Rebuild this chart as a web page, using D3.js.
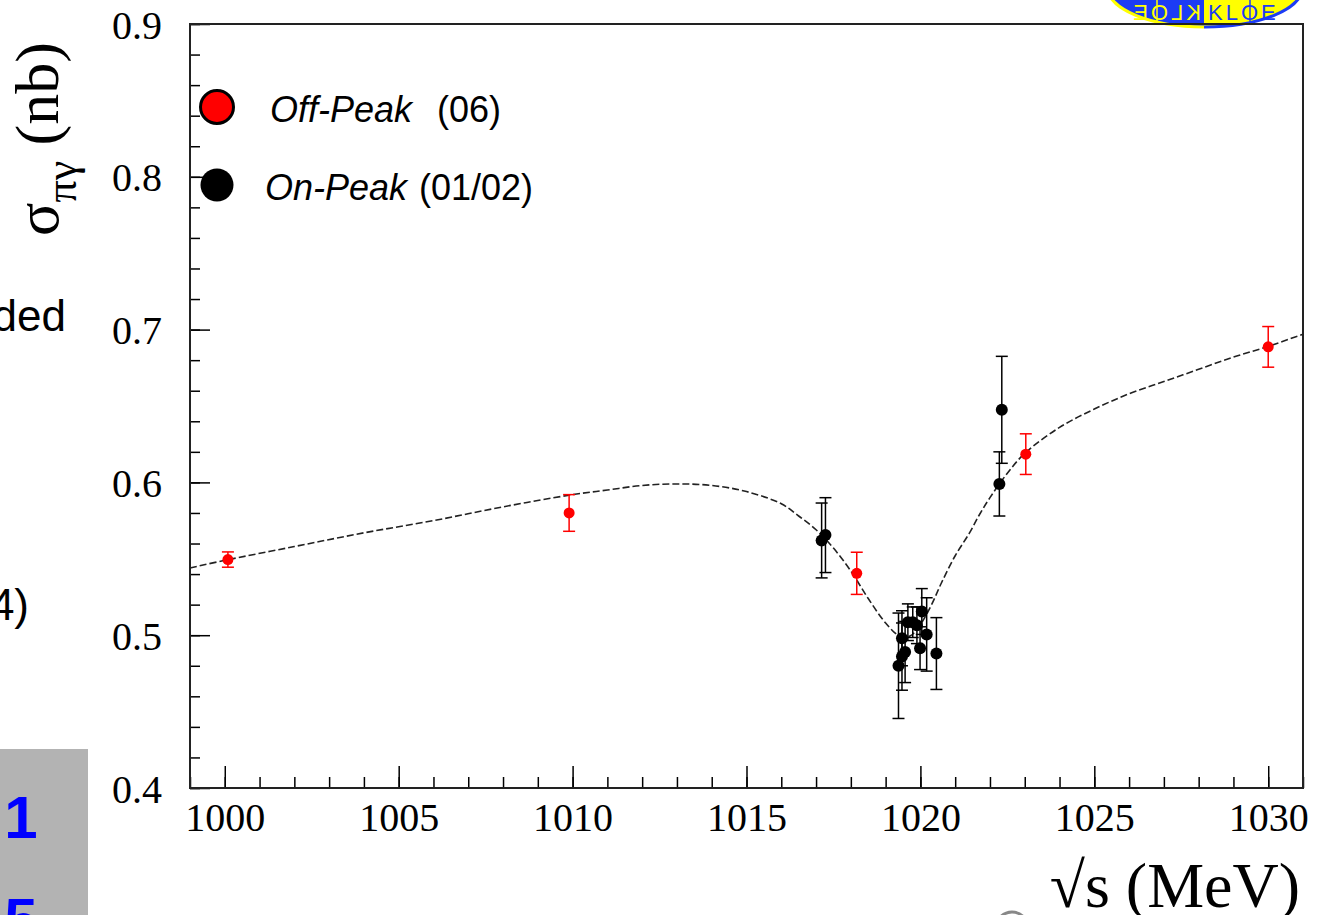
<!DOCTYPE html>
<html lang="en">
<head>
	<meta charset="UTF-8">
	<title>sigma pi gamma vs sqrt(s)</title>

	<script src="https://cdn.jsdelivr.net/npm/d3@7/dist/d3.min.js"></script>

	<style>
		body {
			margin: 0;
			background: #fff;
			overflow: hidden;
		}

		.axis text {
			font-family: "Liberation Serif", "Times New Roman", serif;
			font-size: 40px;
			fill: #000;
		}

		.axis line {
			stroke: #000;
			stroke-width: 1.5;
		}

		.slide {
			font-family: "Liberation Sans", Arial, sans-serif;
		}
	</style>

</head>
<body>

<script type="text/javascript">

	// Off-Peak runs (2006)
	var offEnergy = [1000.09, 1009.9, 1018.17, 1023.03, 1030.0];
	var offSigma = [0.5495, 0.580, 0.5405, 0.6185, 0.6887];
	var offErr = [0.005, 0.012, 0.0138, 0.0133, 0.0133];

	// On-Peak runs (2001/2002)
	var onEnergy = [1017.16, 1017.27, 1019.37, 1019.47, 1019.56, 1019.47, 1019.64, 1019.78, 1019.9, 1020.04, 1019.99, 1020.18, 1020.46, 1022.27, 1022.34];
	var onSigma = [0.562, 0.5655, 0.480, 0.486, 0.489, 0.498, 0.5085, 0.5085, 0.5065, 0.5155, 0.4915, 0.5005, 0.488, 0.599, 0.6475];
	var onErr = [0.0245, 0.0245, 0.0345, 0.022, 0.020, 0.018, 0.012, 0.010, 0.012, 0.015, 0.014, 0.024, 0.0235, 0.021, 0.035];

	// fit curve, sampled
	var fitEnergy = [999, 1000, 1002, 1004, 1006, 1008, 1010, 1011, 1012, 1013, 1014, 1015, 1016, 1016.5, 1017, 1017.5, 1018, 1018.5, 1019, 1019.4, 1019.7, 1020, 1020.3, 1020.6, 1021, 1021.4, 1021.7, 1022, 1022.5, 1023, 1024, 1025, 1026, 1027, 1028, 1029, 1030, 1031];
	var fitSigma = [0.544, 0.549, 0.558, 0.567, 0.575, 0.584, 0.592, 0.595, 0.598, 0.599, 0.598, 0.594, 0.586, 0.578, 0.569, 0.557, 0.542, 0.524, 0.508, 0.4995, 0.4995, 0.507, 0.519, 0.534, 0.552, 0.5665, 0.579, 0.590, 0.606, 0.619, 0.636, 0.648, 0.658, 0.666, 0.674, 0.682, 0.689, 0.697];

	var xMajor = [1000, 1005, 1010, 1015, 1020, 1025, 1030];
	var yMajor = [0.4, 0.5, 0.6, 0.7, 0.8, 0.9];

	var legendLabels = [
		{name: 'Off-Peak', tag: '(06)', color: '#ff0000'},
		{name: 'On-Peak', tag: '(01/02)', color: '#000000'}
	];

	var W = 1317, H = 915;
	var frame = {left: 190, right: 1303, top: 24, bottom: 788};

	var svg = d3.select('body').append('svg')
		.attr('width', W)
		.attr('height', H);

	var x = d3.scaleLinear().domain([999, 1031]).range([frame.left, frame.right]);
	var y = d3.scaleLinear().domain([0.4, 0.9]).range([frame.bottom, frame.top]);

	// --- slide bits around the plot ---
	svg.append('text').attr('class', 'slide')
		.attr('x', 66).attr('y', 331)
		.attr('text-anchor', 'end')
		.style('font-size', '44px')
		.text('ded');
	svg.append('text').attr('class', 'slide')
		.attr('x', 29).attr('y', 620)
		.attr('text-anchor', 'end')
		.style('font-size', '44px')
		.text('4)');

	svg.append('rect')
		.attr('x', 0).attr('y', 749)
		.attr('width', 88).attr('height', H - 749)
		.attr('fill', '#b3b3b3');
	svg.append('text').attr('class', 'slide')
		.attr('x', 21).attr('y', 838)
		.attr('text-anchor', 'middle')
		.style('font-size', '60px').style('font-weight', 'bold')
		.attr('fill', '#0000ff')
		.text('1');
	svg.append('text').attr('class', 'slide')
		.attr('x', 21).attr('y', 940)
		.attr('text-anchor', 'middle')
		.style('font-size', '60px').style('font-weight', 'bold')
		.attr('fill', '#0000ff')
		.text('5');

	svg.append('circle')
		.attr('cx', 1012).attr('cy', 928).attr('r', 16)
		.attr('fill', 'none').attr('stroke', '#888').attr('stroke-width', 3);

	// KLOE badge, top right
	var logo = svg.append('g');
	var defs = svg.append('defs');
	defs.append('clipPath').attr('id', 'leftHalf')
		.append('rect').attr('x', 1100).attr('y', -60).attr('width', 104).attr('height', 100);
	defs.append('clipPath').attr('id', 'rightHalf')
		.append('rect').attr('x', 1204).attr('y', -60).attr('width', 104).attr('height', 100);

	logo.append('ellipse')
		.attr('cx', 1205).attr('cy', -12).attr('rx', 97).attr('ry', 39)
		.attr('fill', '#1c3cf5').attr('stroke', '#ffff00').attr('stroke-width', 3)
		.attr('clip-path', 'url(#leftHalf)');
	logo.append('ellipse')
		.attr('cx', 1205).attr('cy', -12).attr('rx', 97).attr('ry', 39)
		.attr('fill', '#ffff00').attr('stroke', '#1c3cf5').attr('stroke-width', 3)
		.attr('clip-path', 'url(#rightHalf)');
	logo.selectAll('.divider')
		.data([1157, 1250])
		.enter().append('line')
		.attr('x1', function (d) { return d; }).attr('x2', function (d) { return d; })
		.attr('y1', 0).attr('y2', 22)
		.attr('stroke', function (d) { return d < 1204 ? '#ffff00' : '#1c3cf5'; })
		.attr('stroke-width', 1.5);
	logo.append('text').attr('class', 'slide')
		.attr('transform', 'translate(1201,20) scale(-1,1)')
		.attr('fill', '#ffff00')
		.style('font-size', '22px').style('letter-spacing', '3px')
		.text('KLOE');
	logo.append('text').attr('class', 'slide')
		.attr('x', 1208).attr('y', 20)
		.attr('fill', '#1c3cf5')
		.style('font-size', '22px').style('letter-spacing', '3px')
		.text('KLOE');

	// --- axes, ROOT style: ticks point into the frame ---
	var yMinor = d3.range(0.4, 0.9001, 0.02).map(function (d) { return +d.toFixed(2); });
	var xMinor = d3.range(999, 1031.001, 1);

	svg.append('g')
		.attr('class', 'axis')
		.attr('transform', 'translate(' + frame.left + ',0)')
		.call(d3.axisLeft(y).tickValues(yMinor).tickSize(-10).tickFormat(''))
		.call(function (g) { g.select('.domain').remove(); });

	svg.append('g')
		.attr('class', 'axis')
		.attr('transform', 'translate(' + frame.left + ',0)')
		.call(d3.axisLeft(y).tickValues(yMajor).tickSize(-20).tickPadding(28).tickFormat(d3.format('.1f')))
		.call(function (g) {
			g.select('.domain').remove();
			g.selectAll('text').attr('dy', '0.35em');
		});

	svg.append('g')
		.attr('class', 'axis')
		.attr('transform', 'translate(0,' + frame.bottom + ')')
		.call(d3.axisBottom(x).tickValues(xMinor).tickSize(-11).tickFormat(''))
		.call(function (g) { g.select('.domain').remove(); });

	svg.append('g')
		.attr('class', 'axis')
		.attr('transform', 'translate(0,' + frame.bottom + ')')
		.call(d3.axisBottom(x).tickValues(xMajor).tickSize(-22).tickPadding(15).tickFormat(d3.format('d')))
		.call(function (g) { g.select('.domain').remove(); });

	svg.append('rect')
		.attr('x', frame.left).attr('y', frame.top)
		.attr('width', frame.right - frame.left)
		.attr('height', frame.bottom - frame.top)
		.attr('fill', 'none')
		.attr('stroke', '#222')
		.attr('stroke-width', 2);

	// axis titles
	var ytitle = svg.append('text')
		.attr('transform', 'translate(58,236) rotate(-90)')
		.style('font-family', '"Liberation Serif", "Times New Roman", serif')
		.style('font-size', '62px');
	ytitle.append('tspan').text('σ');
	ytitle.append('tspan').attr('dy', 18).style('font-size', '44px').text('πγ');
	ytitle.append('tspan').attr('dy', -18).text(' (nb)');

	svg.append('text')
		.attr('x', 1300).attr('y', 907)
		.attr('text-anchor', 'end')
		.style('font-family', '"Liberation Serif", "Times New Roman", serif')
		.style('font-size', '64px')
		.text('√s (MeV)');

	// --- fit curve ---
	var fit = fitEnergy.map(function (e, i) { return {e: e, s: fitSigma[i]}; });
	var line = d3.line()
		.x(function (d) { return x(d.e); })
		.y(function (d) { return y(d.s); })
		.curve(d3.curveCatmullRom.alpha(0.5));

	svg.append('path')
		.datum(fit)
		.attr('d', line)
		.attr('fill', 'none')
		.attr('stroke', '#222')
		.attr('stroke-width', 1.6)
		.attr('stroke-dasharray', '7,3');

	// --- data with error bars ---
	function drawSet(energy, sigma, err, color, r) {
		var data = energy.map(function (e, i) { return {e: e, s: sigma[i], err: err[i]}; });
		var g = svg.append('g');
		var bars = g.selectAll('.bar')
			.data(data)
			.enter().append('g')
			.attr('class', 'bar');
		bars.append('line')
			.attr('x1', function (d) { return x(d.e); })
			.attr('x2', function (d) { return x(d.e); })
			.attr('y1', function (d) { return y(d.s - d.err); })
			.attr('y2', function (d) { return y(d.s + d.err); })
			.attr('stroke', color).attr('stroke-width', 1.5);
		[-1, 1].forEach(function (sgn) {
			bars.append('line')
				.attr('x1', function (d) { return x(d.e) - 6; })
				.attr('x2', function (d) { return x(d.e) + 6; })
				.attr('y1', function (d) { return y(d.s + sgn * d.err); })
				.attr('y2', function (d) { return y(d.s + sgn * d.err); })
				.attr('stroke', color).attr('stroke-width', 1.5);
		});
		g.selectAll('.pt')
			.data(data)
			.enter().append('circle')
			.attr('class', 'pt')
			.attr('cx', function (d) { return x(d.e); })
			.attr('cy', function (d) { return y(d.s); })
			.attr('r', r)
			.attr('fill', color);
	}

	drawSet(offEnergy, offSigma, offErr, '#ff0000', 5.5);
	drawSet(onEnergy, onSigma, onErr, '#000000', 6);

	// --- legend ---
	var leg = svg.append('g');
	var legY = [107, 185];
	var legTextX = [270, 265];
	var legTagX = [437, 419];
	legendLabels.forEach(function (d, i) {
		leg.append('circle')
			.attr('cx', 217).attr('cy', legY[i]).attr('r', 16.5)
			.attr('fill', d.color)
			.attr('stroke', '#000').attr('stroke-width', i === 0 ? 3 : 0);
		leg.append('text').attr('class', 'slide')
			.attr('x', legTextX[i]).attr('y', legY[i] + 15)
			.style('font-size', '36px').style('font-style', 'italic')
			.text(d.name);
		leg.append('text').attr('class', 'slide')
			.attr('x', legTagX[i]).attr('y', legY[i] + 15)
			.style('font-size', '36px')
			.text(d.tag);
	});

</script>

</body>
</html>
